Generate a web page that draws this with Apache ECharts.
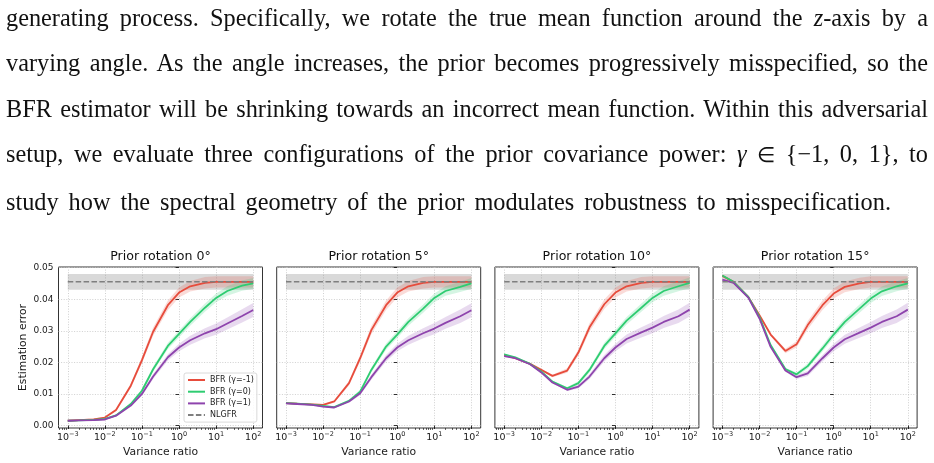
<!DOCTYPE html>
<html>
<head>
<meta charset="utf-8">
<script src="https://cdn.jsdelivr.net/npm/echarts@6.0.0/dist/echarts.min.js"></script>
<style>
  html, body { margin: 0; padding: 0; background: #fff; }
  #chart { position: absolute; left: 0; top: 0; width: 934px; height: 463px; }
  #para { position: absolute; left: 6px; width: 922px; font-family: "Liberation Serif", serif; color: #111; }
  #para div { white-space: nowrap; }
  #para .elem { font-size: 0.85em; }
</style>
</head>
<body>
<div id="chart"></div>
<div id="para">
  <div><span>generating process. Specifically, we rotate the true mean function around the <i>z</i>-axis by a</span></div>
  <div><span>varying angle. As the angle increases, the prior becomes progressively misspecified, so the</span></div>
  <div><span>BFR estimator will be shrinking towards an incorrect mean function. Within this adversarial</span></div>
  <div><span>setup, we evaluate three configurations of the prior covariance power: <i>γ</i> <span class="elem">∈</span> {−1, 0, 1}, to</span></div>
  <div><span>study how the spectral geometry of the prior modulates robustness to misspecification.</span></div>
</div>
<script>
// variance ratios shared by every panel
const ratios = [0.001, 0.002, 0.005, 0.01, 0.02, 0.05, 0.1, 0.2, 0.5, 1, 2, 5, 10, 20, 50, 100]
const titles = ['Prior rotation 0°', 'Prior rotation 5°', 'Prior rotation 10°', 'Prior rotation 15°']
const seriesNames = ['BFR (γ=-1)', 'BFR (γ=0)', 'BFR (γ=1)']

// mean estimation error, one array per rotation and gamma
const rot0Neg1 = [0.0015, 0.0017, 0.0019, 0.0025, 0.0049, 0.0126, 0.0207, 0.0297, 0.0381, 0.0421, 0.0441, 0.0452, 0.0455, 0.0455, 0.0455, 0.0455]
const rot0Zero = [0.0015, 0.0016, 0.0018, 0.0021, 0.0032, 0.0068, 0.0110, 0.0178, 0.0252, 0.0290, 0.0328, 0.0373, 0.0404, 0.0426, 0.0443, 0.0450]
const rot0One = [0.0015, 0.0016, 0.0017, 0.0019, 0.0031, 0.0063, 0.0100, 0.0155, 0.0216, 0.0247, 0.0270, 0.0292, 0.0305, 0.0323, 0.0347, 0.0366]

const rot5Neg1 = [0.0071, 0.0069, 0.0067, 0.0065, 0.0076, 0.0134, 0.0213, 0.0302, 0.0381, 0.0421, 0.0441, 0.0452, 0.0455, 0.0455, 0.0455, 0.0455]
const rot5Zero = [0.0071, 0.0069, 0.0066, 0.0062, 0.0058, 0.0078, 0.0107, 0.0176, 0.0250, 0.0288, 0.0328, 0.0370, 0.0404, 0.0426, 0.0439, 0.0450]
const rot5One = [0.0070, 0.0068, 0.0065, 0.0060, 0.0057, 0.0076, 0.0102, 0.0153, 0.0213, 0.0247, 0.0270, 0.0292, 0.0307, 0.0325, 0.0346, 0.0365]

const rot10Neg1 = [0.0223, 0.0213, 0.0195, 0.0176, 0.0157, 0.0174, 0.0231, 0.0311, 0.0384, 0.0421, 0.0441, 0.0452, 0.0455, 0.0455, 0.0455, 0.0455]
const rot10Zero = [0.0225, 0.0216, 0.0195, 0.0171, 0.0139, 0.0118, 0.0134, 0.0176, 0.0252, 0.0292, 0.0332, 0.0373, 0.0404, 0.0426, 0.0441, 0.0452]
const rot10One = [0.0220, 0.0213, 0.0194, 0.0168, 0.0136, 0.0113, 0.0123, 0.0155, 0.0213, 0.0247, 0.0274, 0.0295, 0.0310, 0.0328, 0.0346, 0.0367]

const rot15Neg1 = [0.0474, 0.0455, 0.0407, 0.0349, 0.0288, 0.0236, 0.0257, 0.0318, 0.0381, 0.0418, 0.0439, 0.0450, 0.0455, 0.0455, 0.0455, 0.0455]
const rot15Zero = [0.0475, 0.0455, 0.0407, 0.0344, 0.0255, 0.0179, 0.0162, 0.0188, 0.0244, 0.0288, 0.0328, 0.0370, 0.0402, 0.0425, 0.0441, 0.0450]
const rot15One = [0.0462, 0.0452, 0.0405, 0.0339, 0.0249, 0.0174, 0.0153, 0.0165, 0.0213, 0.0247, 0.0273, 0.0294, 0.0310, 0.0328, 0.0346, 0.0367]

// half-width of the shaded band, per gamma
const bandNeg1 = [0.0003, 0.0003, 0.0003, 0.0003, 0.0004, 0.0007, 0.0010, 0.0013, 0.0015, 0.0016, 0.0017, 0.0018, 0.0018, 0.0018, 0.0018, 0.0018]
const bandZero = [0.0002, 0.0002, 0.0002, 0.0002, 0.0003, 0.0004, 0.0006, 0.0008, 0.0010, 0.0011, 0.0012, 0.0013, 0.0014, 0.0015, 0.0016, 0.0017]
const bandOne = [0.0002, 0.0002, 0.0002, 0.0002, 0.0003, 0.0004, 0.0006, 0.0008, 0.0010, 0.0012, 0.0014, 0.0016, 0.0018, 0.0019, 0.0021, 0.0022]

// NLGFR baseline
const nlgfrRatios = [0.001, 100]
const nlgfrMean = [0.0455, 0.0455]
const nlgfrLow = [0.0430, 0.0430]
const nlgfrHigh = [0.0480, 0.0480]

// axis ticks
const xTickExps = [-3, -2, -1, 0, 1, 2]
const yTicks = [0, 0.01, 0.02, 0.03, 0.04, 0.05]

const panels = [
  [rot0Neg1, rot0Zero, rot0One],
  [rot5Neg1, rot5Zero, rot5One],
  [rot10Neg1, rot10Zero, rot10One],
  [rot15Neg1, rot15Zero, rot15One]
]
const bands = [bandNeg1, bandZero, bandOne]
const colors = ['#e74c3c', '#2ecc71', '#8e44ad']
const bandColors = ['rgba(231,76,60,0.2)', 'rgba(46,204,113,0.2)', 'rgba(142,68,173,0.2)']

const FONT = 'DejaVu Sans'
const gridLefts = [58.5, 276.7, 494.9, 713.1]
const GRID_W = 204
const GRID_TOP = 267
const GRID_H = 161

const minorTicks = []
xTickExps.forEach(e => {
  if (e === 2) return
  for (let k = 2; k <= 9; k++) minorTicks.push(e + Math.log10(k))
})
for (let k = 2; k <= 9; k++) minorTicks.push(-4 + Math.log10(k))
minorTicks.push(2 + Math.log10(2))

const supMinus = v => (v < 0 ? '−' + (-v) : String(v))
const gridLine = { show: true, lineStyle: { color: '#c4c4c4', width: 0.8, type: [1, 1.6] } }
const tickStyle = { color: '#000', width: 0.8 }

function bandSeries(xi, yi, xs, lo, hi, fill, z) {
  return {
    type: 'custom',
    xAxisIndex: xi,
    yAxisIndex: yi,
    silent: true,
    z: z,
    data: [[xs[0], lo[0]]],
    renderItem: (params, api) => {
      const upper = xs.map((x, k) => api.coord([x, hi[k]]))
      const lower = xs.map((x, k) => api.coord([x, lo[k]])).reverse()
      return {
        type: 'polygon',
        shape: { points: upper.concat(lower) },
        style: { fill: fill, stroke: null }
      }
    }
  }
}

const grid = []
const xAxis = []
const yAxis = []
const series = []
const graphic = []

panels.forEach((panel, i) => {
  grid.push({
    left: gridLefts[i], top: GRID_TOP, width: GRID_W, height: GRID_H,
    show: true, borderColor: '#000', borderWidth: 0.8, backgroundColor: 'transparent'
  })
  xAxis.push({
    gridIndex: i, type: 'value', min: -3.25, max: 2.25,
    axisLine: { show: false },
    axisTick: { customValues: xTickExps, length: 3.5, lineStyle: tickStyle },
    axisLabel: {
      customValues: xTickExps,
      margin: 3,
      formatter: v => '{b|10}{s|' + supMinus(v) + '}',
      rich: {
        b: { fontSize: 9.5, fontFamily: FONT, color: '#1a1a1a', lineHeight: 14 },
        s: { fontSize: 6.5, fontFamily: FONT, color: '#1a1a1a', lineHeight: 8, verticalAlign: 'top' }
      }
    },
    splitLine: gridLine,
    name: 'Variance ratio', nameLocation: 'middle', nameGap: 19,
    nameTextStyle: { fontSize: 10.8, fontFamily: FONT, color: '#1a1a1a' }
  })
  xAxis.push({
    gridIndex: i, type: 'value', min: -3.25, max: 2.25, position: 'bottom',
    axisLine: { show: false },
    axisTick: { customValues: minorTicks, length: 2, lineStyle: { color: '#000', width: 0.6 } },
    axisLabel: { show: false },
    splitLine: { show: false }
  })
  yAxis.push({
    gridIndex: i, type: 'value', min: -0.0008, max: 0.0502,
    axisLine: { show: false },
    axisTick: { customValues: yTicks, length: 3.5, lineStyle: tickStyle },
    axisLabel: {
      show: i === 0, customValues: yTicks, margin: 5,
      formatter: v => v.toFixed(2),
      fontSize: 9, fontFamily: FONT, color: '#1a1a1a'
    },
    splitLine: gridLine,
    name: i === 0 ? 'Estimation error' : '', nameLocation: 'middle', nameGap: 30,
    nameTextStyle: { fontSize: 10.8, fontFamily: FONT, color: '#1a1a1a' }
  })
  graphic.push({
    type: 'text', x: gridLefts[i] + GRID_W / 2, y: 256.5,
    style: { text: titles[i], align: 'center', verticalAlign: 'middle', font: '12.6px "' + FONT + '"', fill: '#111' }
  })

  const xi = i * 2
  const nx = nlgfrRatios.map(r => Math.log10(r))
  series.push(bandSeries(xi, i, nx, nlgfrLow, nlgfrHigh, 'rgba(128,128,128,0.3)', 1))

  const xs = ratios.map(r => Math.log10(r))
  panel.forEach((vals, g) => {
    const lo = vals.map((v, k) => v - bands[g][k])
    const hi = vals.map((v, k) => v + bands[g][k])
    series.push(bandSeries(xi, i, xs, lo, hi, bandColors[g], 2))
  })
  panel.forEach((vals, g) => {
    series.push({
      type: 'line', name: seriesNames[g], xAxisIndex: xi, yAxisIndex: i,
      data: xs.map((x, k) => [x, vals[k]]),
      symbol: 'none', showSymbol: false, z: 3,
      lineStyle: { color: colors[g], width: 1.8 },
      itemStyle: { color: colors[g] }
    })
  })
  series.push({
    type: 'line', name: 'NLGFR', xAxisIndex: xi, yAxisIndex: i,
    data: nx.map((x, k) => [x, nlgfrMean[k]]),
    symbol: 'none', showSymbol: false, z: 4,
    lineStyle: { color: '#7f7f7f', width: 1.5, type: [5.5, 2.4] },
    itemStyle: { color: '#7f7f7f' }
  })
})

const chart = echarts.init(document.getElementById('chart'))
chart.setOption({
  animation: false,
  backgroundColor: '#fff',
  grid: grid,
  xAxis: xAxis,
  yAxis: yAxis,
  graphic: graphic,
  legend: {
    data: seriesNames.concat(['NLGFR']),
    orient: 'vertical', left: 184, top: 373,
    itemWidth: 17, itemHeight: 8, itemGap: 3.7,
    padding: [3, 3, 3, 3],
    borderColor: '#d0d0d0', borderWidth: 0.8, borderRadius: 2,
    backgroundColor: 'rgba(255,255,255,0.85)',
    selectedMode: false,
    itemStyle: { opacity: 0 },
    textStyle: { fontSize: 8, fontFamily: FONT, color: '#222' }
  },
  series: series
})

// paragraph: fixed line breaks, spread by word spacing like the justified source
const para = document.getElementById('para')
const lines = Array.from(para.children)
const fontSize = 24.3
const lineH = 45.6
para.style.fontSize = fontSize + 'px'
para.style.lineHeight = lineH + 'px'
para.style.top = (25.5 - ((lineH - 1.107 * fontSize) / 2 + 0.891 * fontSize)) + 'px'
const targets = [922, 922, 922, 922, 885]
lines.forEach((div, idx) => {
  const span = div.firstElementChild
  const w = span.getBoundingClientRect().width
  const gaps = span.textContent.split(' ').length - 1
  div.style.wordSpacing = ((targets[idx] - w) / gaps) + 'px'
})
</script>
</body>
</html>
